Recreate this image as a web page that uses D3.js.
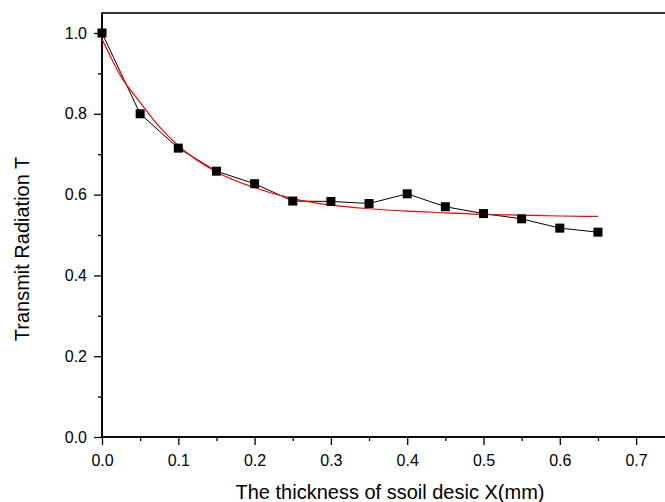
<!DOCTYPE html>
<html><head><meta charset="utf-8">
<script src="https://cdn.jsdelivr.net/npm/d3@7"></script>
<style>body{margin:0;background:#fff;}svg{display:block;font-family:Arial,"Liberation Sans",sans-serif;}</style>
</head><body>
<svg id="c" width="665" height="502"></svg>
<script>
const thickness = [0, 0.05, 0.10, 0.15, 0.20, 0.25, 0.30, 0.35, 0.40, 0.45, 0.50, 0.55, 0.60, 0.65];
const transmit  = [1.0, 0.80, 0.715, 0.658, 0.627, 0.584, 0.583, 0.578, 0.602, 0.570, 0.553, 0.540, 0.517, 0.507];
const fitX = [0, 0.025, 0.05, 0.075, 0.10, 0.15, 0.20, 0.25, 0.30, 0.35, 0.40, 0.45, 0.50, 0.55, 0.60, 0.65];
const fitY = [0.985, 0.892, 0.828, 0.768, 0.721, 0.656, 0.617, 0.590, 0.574, 0.565, 0.559, 0.555, 0.551, 0.549, 0.547, 0.546];
const xTicks = [0, 0.1, 0.2, 0.3, 0.4, 0.5, 0.6, 0.7];
const yTicks = [0, 0.2, 0.4, 0.6, 0.8, 1.0];
const xTitle = "The thickness of ssoil desic X(mm)";
const yTitle = "Transmit Radiation T";

const FONT = "Arial, 'Liberation Sans', sans-serif";
const svg = d3.select("#c");
const L = 102, T = 13, B = 437;
const x = d3.scaleLinear().domain([0, 0.74]).range([L, L + 0.74 * 763]);
const y = d3.scaleLinear().domain([0, 1.05]).range([B, B - 1.05 * 404]);

// frame
svg.append("rect").attr("x", L).attr("y", T).attr("width", x(0.74) - L).attr("height", B - T)
  .attr("fill", "none").attr("stroke", "#000").attr("stroke-width", 1.6);

// minor ticks
const xMinor = d3.range(0.05, 0.74, 0.1);
const yMinor = d3.range(0.1, 1.05, 0.2);
svg.append("g").attr("transform", `translate(0,${B})`)
  .call(d3.axisBottom(x).tickValues(xMinor).tickSize(4).tickFormat(""))
  .call(g => g.select(".domain").remove())
  .call(g => g.selectAll("line").attr("stroke-width", 1.3));
svg.append("g").attr("transform", `translate(${L},0)`)
  .call(d3.axisLeft(y).tickValues(yMinor).tickSize(4).tickFormat(""))
  .call(g => g.select(".domain").remove())
  .call(g => g.selectAll("line").attr("stroke-width", 1.3));

// major axes
const xa = svg.append("g").attr("transform", `translate(0,${B})`)
  .call(d3.axisBottom(x).tickValues(xTicks).tickSize(8).tickPadding(10).tickFormat(d3.format(".1f")));
xa.select(".domain").attr("stroke-width", 1.6).attr("d", `M${L},0H${x(0.74)}`);
xa.selectAll("line").attr("stroke-width", 1.3);
xa.selectAll("text").attr("font-size", 16).attr("font-family", FONT).attr("fill", "#000");

const ya = svg.append("g").attr("transform", `translate(${L},0)`)
  .call(d3.axisLeft(y).tickValues(yTicks).tickSize(8).tickPadding(7).tickFormat(d3.format(".1f")));
ya.select(".domain").attr("stroke-width", 1.6).attr("d", `M0,${B}V${T}`);
ya.selectAll("line").attr("stroke-width", 1.3);
ya.selectAll("text").attr("font-size", 16).attr("font-family", FONT).attr("fill", "#000");

// data line
const pts = thickness.map((d, i) => [d, transmit[i]]);
svg.append("path").datum(pts)
  .attr("fill", "none").attr("stroke", "#000").attr("stroke-width", 1)
  .attr("d", d3.line().x(d => x(d[0])).y(d => y(d[1])));

// fit curve
const fit = fitX.map((d, i) => [d, fitY[i]]);
svg.append("path").datum(fit)
  .attr("fill", "none").attr("stroke", "#ff0000").attr("stroke-width", 1.2)
  .attr("d", d3.line().curve(d3.curveMonotoneX).x(d => x(d[0])).y(d => y(d[1])));

// markers
const s = 9;
svg.append("g").selectAll("rect").data(pts).join("rect")
  .attr("x", d => x(d[0]) - s / 2).attr("y", d => y(d[1]) - s / 2)
  .attr("width", s).attr("height", s).attr("fill", "#000");

// titles
svg.append("text").attr("x", 390).attr("y", 499).attr("text-anchor", "middle")
  .attr("font-size", 20).attr("font-family", FONT).text(xTitle);
svg.append("text").attr("transform", `translate(29,249) rotate(-90)`)
  .attr("text-anchor", "middle").attr("font-size", 20).attr("font-family", FONT).text(yTitle);
</script>
</body></html>
